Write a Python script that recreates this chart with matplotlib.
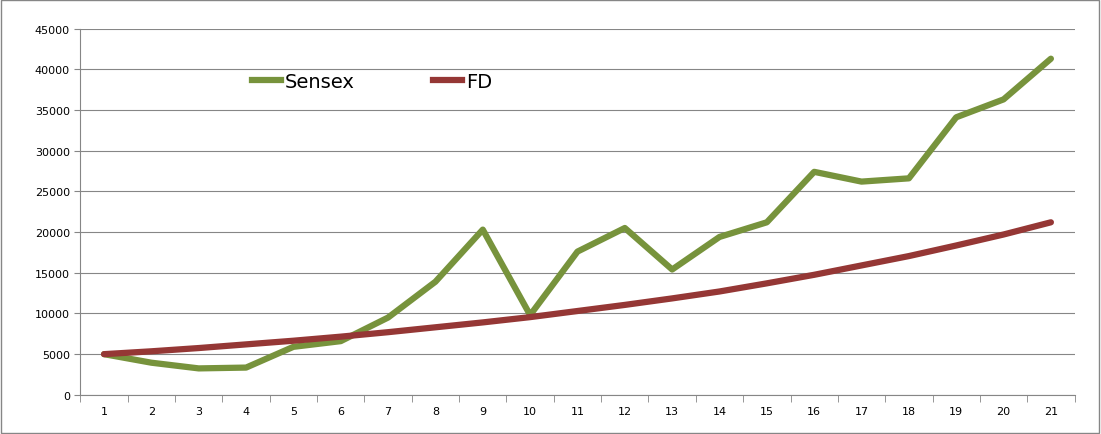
import matplotlib.pyplot as plt
from matplotlib.lines import Line2D

years = list(range(1, 22))
sensex = [5000, 3950, 3250, 3350, 5900, 6600, 9500, 13900, 20300, 9800, 17600,
          20500, 15400, 19400, 21200, 27400, 26200, 26600, 34100, 36300, 41300]
fd = [5000, 5350, 5750, 6200, 6650, 7150, 7700, 8300, 8900, 9550, 10300,
      11050, 11850, 12700, 13700, 14750, 15900, 17050, 18350, 19700, 21200]

fig = plt.figure(figsize=(11.01, 4.35), dpi=100)
ax = fig.add_axes([0.073, 0.09, 0.903, 0.842])

ax.plot(years, sensex, color="#77933C", lw=4.5, solid_capstyle="round")
ax.plot(years, fd, color="#953735", lw=4.5, solid_capstyle="round")

ax.set_xlim(0.5, 21.5)
ax.set_ylim(0, 45000)
ax.set_yticks(range(0, 45001, 5000))
ax.set_xticks(years)
ax.set_xticks([x + 0.5 for x in range(0, 22)], minor=True)
ax.tick_params(axis="x", which="major", length=0, labelsize=8, pad=8)
ax.tick_params(axis="x", which="minor", length=5, color="#868686")
ax.tick_params(axis="y", length=4, labelsize=8, color="#868686")
ax.grid(axis="y", color="#868686", lw=0.8)
ax.set_axisbelow(True)
for s in ["top", "right"]:
    ax.spines[s].set_visible(False)
for s in ["left", "bottom"]:
    ax.spines[s].set_color("#868686")

handles = [Line2D([], [], color="#77933C", lw=4.5),
           Line2D([], [], color="#953735", lw=4.5)]
ax.legend(handles, ["Sensex", "FD"], ncol=2, frameon=False, fontsize=14,
          loc="upper left", bbox_to_anchor=(0.155, 0.93), handlelength=1.5,
          handletextpad=0.2, columnspacing=4)

fig.patches.append(plt.Rectangle((0.001, 0.002), 0.997, 0.995, transform=fig.transFigure,
                                 fill=False, edgecolor="#868686", lw=1))
fig.savefig("out.png", dpi=100)
